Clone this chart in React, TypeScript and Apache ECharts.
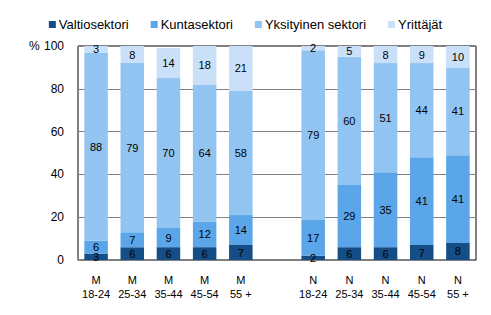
import React, { useEffect, useRef } from "react";
import * as echarts from "echarts";

const categories = ["M\n18-24", "M\n25-34", "M\n35-44", "M\n45-54", "M\n55 +", "", "N\n18-24", "N\n25-34", "N\n35-44", "N\n45-54", "N\n55 +"];
const valtiosektori = [3, 6, 6, 6, 7, null, 2, 6, 6, 7, 8];
const kuntasektori = [6, 7, 9, 12, 14, null, 17, 29, 35, 41, 41];
const yksityinen = [88, 79, 70, 64, 58, null, 79, 60, 51, 44, 41];
const yrittajat = [3, 8, 14, 18, 21, null, 2, 5, 8, 9, 10];
const yTicks = [0, 20, 40, 60, 80, 100];

const seriesNames = ["Valtiosektori", "Kuntasektori", "Yksityinen sektori", "Yrittäjät"];
const colors = ["#154d86", "#5aa6e8", "#92c4f2", "#c9e0f8"];

export default function App() {
  const ref = useRef<HTMLDivElement>(null);
  useEffect(() => {
    const chart = echarts.init(ref.current!, null, { renderer: "svg" });
    const font = "Liberation Sans, Arial, sans-serif";
    const dataSets = [valtiosektori, kuntasektori, yksityinen, yrittajat];
    chart.setOption({
      animation: false,
      textStyle: { fontFamily: font },
      color: colors,
      legend: {
        top: 13,
        left: "center",
        itemWidth: 7,
        itemHeight: 7,
        itemGap: 22,
        icon: "rect",
        textStyle: { fontSize: 13, color: "#000", fontFamily: font, padding: [0, 0, 0, -2] },
        data: seriesNames,
      },
      grid: {
        left: 78,
        right: 15,
        top: 46,
        bottom: 55,
        show: true,
        borderColor: "#000",
        borderWidth: 1,
        backgroundColor: "transparent",
      },
      xAxis: {
        type: "category",
        data: categories,
        axisLine: { lineStyle: { color: "#808080", width: 1 } },
        axisTick: { show: false },
        axisLabel: { color: "#000", fontSize: 11, lineHeight: 14, margin: 13, interval: 0, fontFamily: font },
      },
      yAxis: {
        type: "value",
        min: 0,
        max: 100,
        interval: 20,
        axisLine: { show: true, lineStyle: { color: "#808080", width: 1 } },
        axisTick: { show: false },
        splitLine: { lineStyle: { color: "#808080", width: 1 } },
        axisLabel: {
          color: "#000",
          fontSize: 12,
          margin: 14,
          fontFamily: font,
          formatter: (v: number) => (yTicks.includes(v) ? String(v) : ""),
        },
      },
      graphic: [
        { type: "text", left: 29, top: 40, style: { text: "%", fontSize: 12, fill: "#000", fontFamily: font } },
      ],
      series: dataSets.map((d, i) => ({
        name: seriesNames[i],
        type: "bar",
        stack: "total",
        barWidth: "65%",
        data: d,
        itemStyle: { color: colors[i] },
        label: {
          show: true,
          position: "inside",
          color: "#000",
          fontSize: 11,
          fontFamily: font,
        },
      })),
    });
    return () => chart.dispose();
  }, []);
  return <div ref={ref} style={{ width: 491, height: 315, position: "absolute", left: 0, top: 0 }} />;
}
